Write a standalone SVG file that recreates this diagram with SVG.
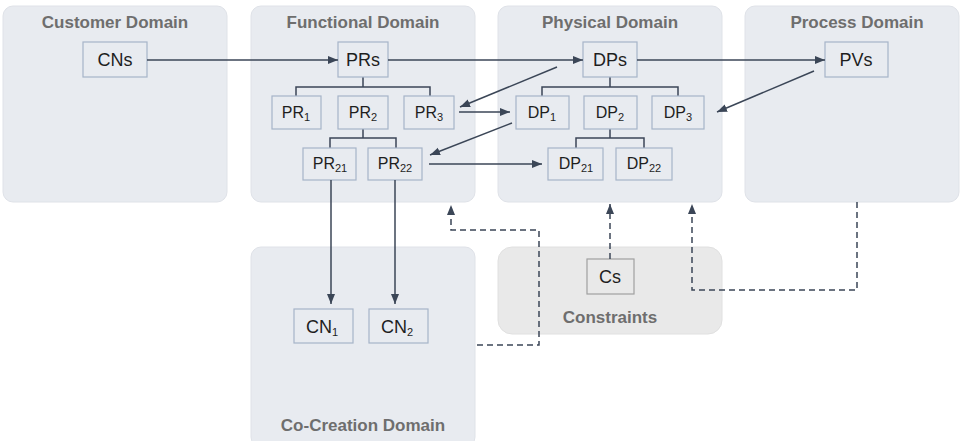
<svg xmlns="http://www.w3.org/2000/svg" width="962" height="441" viewBox="0 0 962 441">
  <style>
    .panel { fill: #e8ebf0; stroke: #dfe2e8; stroke-width: 1; }
    .panel-grey { fill: #e9e9e9; stroke: #e0e0e0; stroke-width: 1; }
    .title { font-family: "Liberation Sans", Arial, sans-serif; font-weight: bold; font-size: 17px; fill: #6e6e6e; text-anchor: middle; }
    .node { fill: #e8ebf0; stroke: #a6b4c8; stroke-width: 1.2; }
    .node-grey { fill: #e9e9e9; stroke: #a0a0a0; stroke-width: 1.2; }
    .lbl { font-family: "Liberation Sans", Arial, sans-serif; font-size: 18px; fill: #1e1e1e; text-anchor: middle; }
    .lbl-s { font-family: "Liberation Sans", Arial, sans-serif; font-size: 16px; fill: #1e1e1e; text-anchor: middle; }
    .sub { font-size: 11px; }
    .tree { fill: none; stroke: #3b4657; stroke-width: 1.5; }
    .link { fill: none; stroke: #3b4657; stroke-width: 1.5; }
    .dash { fill: none; stroke: #3b4657; stroke-width: 1.5; stroke-dasharray: 6 4; }
  </style>
  <defs>
    <marker id="arrow" markerUnits="userSpaceOnUse" markerWidth="10" markerHeight="10" viewBox="0 0 10 10" refX="10" refY="5" orient="auto">
      <path d="M0,1 L10,5 L0,9 Z" fill="#3b4657"/>
    </marker>
  </defs>

  <!-- domain panels -->
  <g id="customer-domain">
    <rect class="panel" x="3" y="6" width="224" height="196" rx="10"/>
    <text class="title" x="115" y="28">Customer Domain</text>
  </g>
  <g id="functional-domain">
    <rect class="panel" x="251" y="6" width="224" height="196" rx="10"/>
    <text class="title" x="363" y="28">Functional Domain</text>
  </g>
  <g id="physical-domain">
    <rect class="panel" x="498" y="6" width="224" height="196" rx="10"/>
    <text class="title" x="610" y="28">Physical Domain</text>
  </g>
  <g id="process-domain">
    <rect class="panel" x="745" y="6" width="214" height="196" rx="10"/>
    <text class="title" x="857" y="28">Process Domain</text>
  </g>
  <g id="co-creation-domain">
    <rect class="panel" x="251" y="247" width="224" height="200" rx="10"/>
    <text class="title" x="363" y="431">Co-Creation Domain</text>
  </g>
  <g id="constraints">
    <rect class="panel-grey" x="498" y="247" width="224" height="87" rx="14"/>
    <text class="title" x="610" y="323">Constraints</text>
  </g>

  <!-- hierarchy lines -->
  <g id="trees">
    <path class="tree" d="M363,77 V87 M296,96 V87 H430 V96 M363,128 V138 M330,148 V138 H396 V148"/>
    <path class="tree" d="M610,77 V87 M542,96 V87 H678 V96 M610,128 V138 M576,148 V138 H644 V148"/>
  </g>

  <!-- nodes -->
  <g id="CNs"><rect class="node" x="83" y="42" width="64" height="35"/><text class="lbl" x="115" y="66">CNs</text></g>
  <g id="PRs"><rect class="node" x="338" y="42" width="50" height="35"/><text class="lbl" x="363" y="66">PRs</text></g>
  <g id="DPs"><rect class="node" x="583" y="42" width="54" height="35"/><text class="lbl" x="610" y="66">DPs</text></g>
  <g id="PVs"><rect class="node" x="825" y="42" width="63" height="35"/><text class="lbl" x="856" y="66">PVs</text></g>

  <g id="PR1"><rect class="node" x="272" y="96" width="49" height="33"/><text class="lbl-s" x="296" y="118">PR<tspan class="sub" dy="3">1</tspan></text></g>
  <g id="PR2"><rect class="node" x="338" y="96" width="50" height="33"/><text class="lbl-s" x="363" y="118">PR<tspan class="sub" dy="3">2</tspan></text></g>
  <g id="PR3"><rect class="node" x="404" y="96" width="50" height="33"/><text class="lbl-s" x="429" y="118">PR<tspan class="sub" dy="3">3</tspan></text></g>
  <g id="PR21"><rect class="node" x="303" y="148" width="53" height="32"/><text class="lbl-s" x="330" y="169">PR<tspan class="sub" dy="3">21</tspan></text></g>
  <g id="PR22"><rect class="node" x="368" y="148" width="54" height="32"/><text class="lbl-s" x="395" y="169">PR<tspan class="sub" dy="3">22</tspan></text></g>

  <g id="DP1"><rect class="node" x="516" y="96" width="53" height="33"/><text class="lbl-s" x="542" y="118">DP<tspan class="sub" dy="3">1</tspan></text></g>
  <g id="DP2"><rect class="node" x="584" y="96" width="53" height="33"/><text class="lbl-s" x="610" y="118">DP<tspan class="sub" dy="3">2</tspan></text></g>
  <g id="DP3"><rect class="node" x="652" y="96" width="52" height="33"/><text class="lbl-s" x="678" y="118">DP<tspan class="sub" dy="3">3</tspan></text></g>
  <g id="DP21"><rect class="node" x="548" y="148" width="55" height="32"/><text class="lbl-s" x="576" y="169">DP<tspan class="sub" dy="3">21</tspan></text></g>
  <g id="DP22"><rect class="node" x="616" y="148" width="56" height="32"/><text class="lbl-s" x="644" y="169">DP<tspan class="sub" dy="3">22</tspan></text></g>

  <g id="CN1"><rect class="node" x="294" y="309" width="59" height="34"/><text class="lbl" x="322" y="333">CN<tspan class="sub" dy="3">1</tspan></text></g>
  <g id="CN2"><rect class="node" x="369" y="309" width="59" height="34"/><text class="lbl" x="397" y="333">CN<tspan class="sub" dy="3">2</tspan></text></g>

  <g id="Cs"><rect class="node-grey" x="587" y="259" width="47" height="35"/><text class="lbl" x="610" y="283">Cs</text></g>

  <!-- connectors -->
  <g id="connectors">
    <path class="link" d="M147,60 H338" marker-end="url(#arrow)"/>
    <path class="link" d="M388,60 H583" marker-end="url(#arrow)"/>
    <path class="link" d="M637,60 H825" marker-end="url(#arrow)"/>
    <path class="link" d="M557,67 L460,107" marker-end="url(#arrow)"/>
    <path class="link" d="M459,112 H510" marker-end="url(#arrow)"/>
    <path class="link" d="M512,123 L430,155" marker-end="url(#arrow)"/>
    <path class="link" d="M429,164 H542" marker-end="url(#arrow)"/>
    <path class="link" d="M814,71 L717,112" marker-end="url(#arrow)"/>
    <path class="link" d="M331,180 V304" marker-end="url(#arrow)"/>
    <path class="link" d="M395,180 V304" marker-end="url(#arrow)"/>
    <path class="dash" d="M477,345 H539 V230 H451 V205" marker-end="url(#arrow)"/>
    <path class="dash" d="M610,259 V204" marker-end="url(#arrow)"/>
    <path class="dash" d="M857,202 V290 H692 V204" marker-end="url(#arrow)"/>
  </g>
</svg>
